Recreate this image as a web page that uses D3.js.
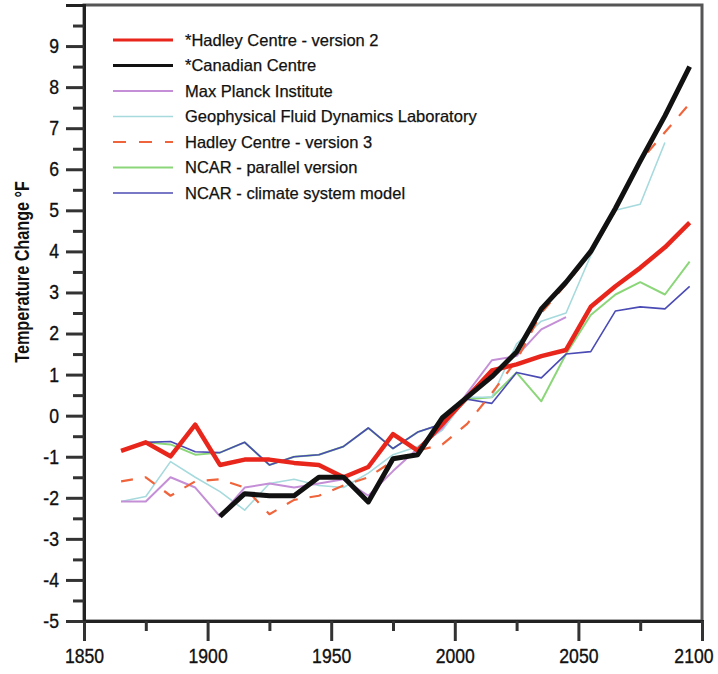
<!DOCTYPE html>
<html>
<head>
    <meta charset="utf-8">
    <script src="https://d3js.org/d3.v7.min.js"></script>
    <style>
        html, body { margin: 0; padding: 0; background: white; }
        svg { display: block; }
        text { font-family: "Liberation Sans", Arial, sans-serif; }
    </style>
</head>
<body>
<div id="chart"></div>
<script>
    // decade mid-points used by every model run
    const years = [1865, 1875, 1885, 1895, 1905, 1915, 1925, 1935, 1945, 1955, 1965, 1975,
        1985, 1995, 2005, 2015, 2025, 2035, 2045, 2055, 2065, 2075, 2085, 2095];

    const hadley2 = [-0.86, -0.65, -0.99, -0.22, -1.2, -1.07, -1.07, -1.15, -1.2, -1.5, -1.25, -0.45,
        -0.85, -0.2, 0.45, 1.1, 1.25, 1.45, 1.6, 2.65, 3.15, 3.6, 4.1, 4.7];
    const canadian = [null, null, null, null, -2.45, -1.9, -1.95, -1.95, -1.5, -1.5, -2.1, -1.05,
        -0.95, -0.05, 0.45, 0.95, 1.55, 2.6, 3.25, 4.0, 5.05, 6.2, 7.3, 8.5];
    const maxPlanck = [-2.09, -2.09, -1.5, -1.75, -2.45, -1.75, -1.65, -1.75, -1.65, -1.55, -1.95, -1.35,
        -0.8, -0.3, 0.55, 1.35, 1.45, 2.1, 2.4, null, null, null, null, null];
    const gfdl = [-2.09, -1.97, -1.12, -1.5, -1.85, -2.3, -1.65, -1.55, -1.7, -1.75, -1.4, -0.95,
        -0.75, -0.35, 0.45, 0.45, 1.75, 2.3, 2.5, 3.9, 5.0, 5.15, 6.65, null];
    const hadley3 = [-1.6, -1.5, -1.95, -1.6, -1.55, -1.75, -2.4, -2.05, -1.95, -1.7, -1.5, -1.1,
        -0.85, -0.7, -0.2, 0.55, 1.35, 2.5, 3.2, 3.95, 5.0, 6.2, 6.9, 7.6];
    const ncarParallel = [-0.85, -0.65, -0.7, -0.95, -0.9, -0.65, -1.2, -1.0, -0.95, -0.75, -0.3, -0.8,
        -0.4, -0.2, 0.4, 0.45, 1.05, 0.35, 1.5, 2.45, 2.95, 3.25, 2.95, 3.75];
    const ncarCsm = [-0.85, -0.65, -0.63, -0.88, -0.9, -0.65, -1.2, -1.0, -0.95, -0.75, -0.3, -0.8,
        -0.4, -0.2, 0.4, 0.3, 1.05, 0.92, 1.5, 1.56, 2.55, 2.65, 2.6, 3.15];

    const yTicks = [-5, -4, -3, -2, -1, 0, 1, 2, 3, 4, 5, 6, 7, 8, 9];
    const xTicks = [1850, 1900, 1950, 2000, 2050, 2100];

    // legend order (top to bottom)
    const series = [
        { name: "*Hadley Centre - version 2", values: hadley2, color: "#e8261b", width: 4.5, dash: null },
        { name: "*Canadian Centre", values: canadian, color: "#111111", width: 5, dash: null },
        { name: "Max Planck Institute", values: maxPlanck, color: "#c48fd6", width: 2, dash: null },
        { name: "Geophysical Fluid Dynamics Laboratory", values: gfdl, color: "#a6dadd", width: 1.6, dash: null },
        { name: "Hadley Centre - version 3", values: hadley3, color: "#f0643c", width: 2.2, dash: "12,12" },
        { name: "NCAR - parallel version", values: ncarParallel, color: "#8cd67a", width: 2, dash: null },
        { name: "NCAR - climate system model", values: ncarCsm, color: "#4b4bb5", width: 1.6, dash: null }
    ];
    // drawing order inside the plot (back to front)
    const drawOrder = [5, 6, 3, 2, 4, 0, 1];

    const W = 718, H = 674;
    const margins = { top: 5, right: 16, bottom: 53, left: 84 };

    // condensed look: squeeze each glyph run horizontally
    function squeeze(sel, f) {
        sel.each(function () {
            const len = this.getComputedTextLength();
            d3.select(this)
                .attr("textLength", len * f)
                .attr("lengthAdjust", "spacingAndGlyphs");
        });
    }

    const svg = d3.select("#chart").append("svg")
        .attr("width", W)
        .attr("height", H);

    svg.append("rect").attr("width", W).attr("height", H).attr("fill", "white");

    const x = d3.scaleLinear()
        .domain([1850, 2100])
        .range([margins.left, W - margins.right]);

    const y = d3.scaleLinear()
        .domain([-5, 10])
        .range([H - margins.bottom, margins.top]);

    // frame
    svg.append("rect")
        .attr("x", x(1850))
        .attr("y", y(10))
        .attr("width", x(2100) - x(1850))
        .attr("height", y(-5) - y(10))
        .attr("fill", "none")
        .attr("stroke", "#555")
        .attr("stroke-width", 3);

    // lines
    const line = d3.line()
        .defined(d => d.v !== null)
        .x(d => x(d.year))
        .y(d => y(d.v));

    drawOrder.forEach(i => {
        const s = series[i];
        svg.append("path")
            .datum(years.map((yr, j) => ({ year: yr, v: s.values[j] })))
            .attr("fill", "none")
            .attr("stroke", s.color)
            .attr("stroke-width", s.width)
            .attr("stroke-linejoin", "round")
            .attr("stroke-dasharray", s.dash)
            .attr("d", line);
    });

    // y axis: labelled integers, short ticks at halves
    const yAxis = svg.append("g")
        .attr("transform", `translate(${x(1850)},0)`)
        .call(d3.axisLeft(y)
            .tickValues(yTicks)
            .tickSize(18)
            .tickPadding(7)
            .tickFormat(d => String(d)));
    yAxis.select(".domain").attr("stroke", "#222").attr("stroke-width", 3);
    yAxis.selectAll(".tick line").attr("stroke", "#333").attr("stroke-width", 3);
    yAxis.selectAll(".tick text")
        .style("font-family", "'Liberation Sans', Arial, sans-serif")
        .style("font-size", "20px")
        .attr("fill", "#111")
        .attr("stroke", "#111")
        .attr("stroke-width", 0.35)
        .call(squeeze, 0.88);

    svg.append("g")
        .attr("transform", `translate(${x(1850)},0)`)
        .call(d3.axisLeft(y)
            .tickValues(yTicks.map(d => d + 0.5))
            .tickSize(11)
            .tickFormat(""))
        .call(g => g.select(".domain").remove())
        .selectAll(".tick line").attr("stroke", "#333").attr("stroke-width", 3);

    // x axis
    const xAxis = svg.append("g")
        .attr("transform", `translate(0,${y(-5)})`)
        .call(d3.axisBottom(x)
            .tickValues(xTicks)
            .tickSize(20)
            .tickPadding(8)
            .tickFormat(d => String(d)));
    xAxis.select(".domain").attr("stroke", "#222").attr("stroke-width", 3);
    xAxis.selectAll(".tick line").attr("stroke", "#333").attr("stroke-width", 3);
    xAxis.selectAll(".tick text")
        .style("font-family", "'Liberation Sans', Arial, sans-serif")
        .style("font-size", "20px")
        .attr("fill", "#111")
        .attr("stroke", "#111")
        .attr("stroke-width", 0.35)
        .call(squeeze, 0.88);
    // last label sits against the right edge of the page
    xAxis.selectAll(".tick text")
        .filter(d => d === 2100)
        .attr("text-anchor", "end")
        .attr("x", W - 5 - x(2100));

    svg.append("g")
        .attr("transform", `translate(0,${y(-5)})`)
        .call(d3.axisBottom(x)
            .tickValues(xTicks.slice(0, -1).map(d => d + 25))
            .tickSize(10)
            .tickFormat(""))
        .call(g => g.select(".domain").remove())
        .selectAll(".tick line").attr("stroke", "#333").attr("stroke-width", 3);

    // y title
    svg.append("text")
        .attr("transform", `translate(29,${y(3.5)}) rotate(-90)`)
        .attr("text-anchor", "middle")
        .style("font-size", "20px")
        .style("font-weight", "bold")
        .attr("fill", "#111")
        .text("Temperature Change °F")
        .call(squeeze, 0.81);

    // legend
    const legend = svg.append("g").attr("transform", "translate(113,40)");
    const rowH = 25.5;
    series.forEach((s, i) => {
        const row = legend.append("g").attr("transform", `translate(0,${i * rowH})`);
        row.append("line")
            .attr("x1", 0).attr("x2", 60)
            .attr("stroke", s.color)
            .attr("stroke-width", Math.min(s.width, 3))
            .attr("stroke-dasharray", s.dash ? "13,13" : null);
        row.append("text")
            .attr("x", 72)
            .attr("dy", "0.35em")
            .style("font-size", "16.5px")
            .attr("fill", "#111")
            .attr("stroke", "#111")
            .attr("stroke-width", 0.25)
            .text(s.name);
    });
</script>
</body>
</html>
